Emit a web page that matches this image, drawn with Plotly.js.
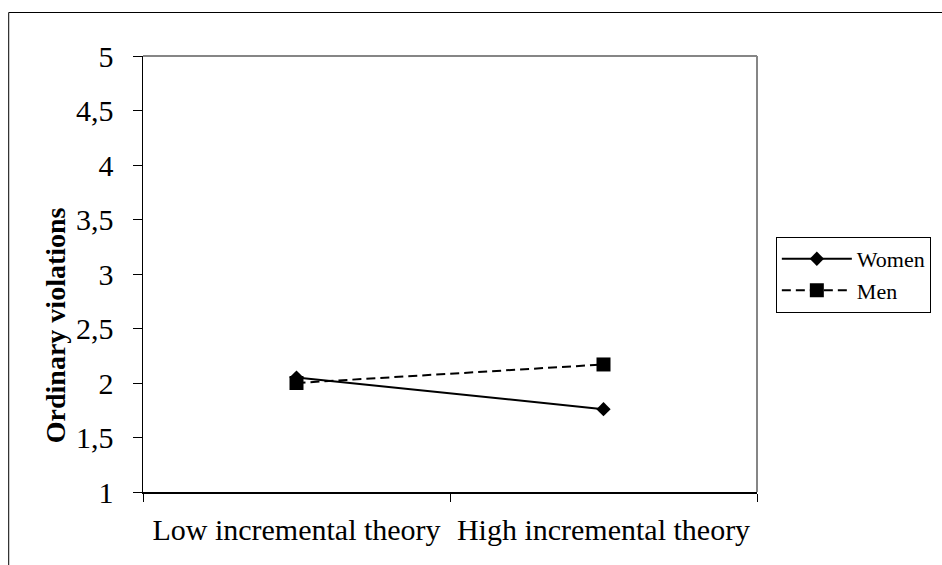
<!DOCTYPE html>
<html>
<head>
<meta charset="utf-8">
<script src="https://cdn.plot.ly/plotly-3.0.1.min.js"></script>
<style>
html,body{margin:0;padding:0;background:#fff;}
#chart{width:942px;height:565px;}
</style>
</head>
<body>
<div id="chart"></div>
<script>
const categories = ["Low incremental theory", "High incremental theory"];
const womenValues = [2.05, 1.76];
const menValues = [2.0, 2.17];
const seriesNames = ["Women", "Men"];
const yTitle = "Ordinary violations";

const FONT = "Liberation Serif, Times New Roman, serif";

const traces = [
  {
    x: categories, y: womenValues, name: seriesNames[0],
    type: "scatter", mode: "lines+markers",
    line: {color: "#000", width: 2, dash: "solid"},
    marker: {symbol: "diamond", size: 11, color: "#000"}
  },
  {
    x: categories, y: menValues, name: seriesNames[1],
    type: "scatter", mode: "lines+markers",
    line: {color: "#000", width: 2, dash: "9px,5px"},
    marker: {symbol: "square", size: 14, color: "#000"}
  }
];

const layout = {
  width: 942, height: 565,
  margin: {l: 143, r: 184, t: 56, b: 73},
  paper_bgcolor: "#fff", plot_bgcolor: "#fff",
  separators: ", ",
  font: {family: FONT, color: "#000", size: 30},
  showlegend: true,
  xaxis: {
    type: "category", range: [-0.5, 1.5],
    showline: true, linecolor: "#000", linewidth: 1.5,
    ticks: "outside", tickson: "boundaries", ticklen: 8, tickcolor: "#000", tickwidth: 1,
    showgrid: false, zeroline: false,
    tickfont: {family: FONT, size: 30, color: "#000"},
    ticklabelstandoff: 10,
    fixedrange: true
  },
  yaxis: {
    range: [1, 5], dtick: 0.5, tick0: 1,
    showline: true, linecolor: "#000", linewidth: 1.5,
    ticks: "outside", ticklen: 9, tickcolor: "#000", tickwidth: 1,
    showgrid: false, zeroline: false,
    tickfont: {family: FONT, size: 30, color: "#000"},
    ticklabelstandoff: 13,
    fixedrange: true
  },
  legend: {
    x: 1.029, xanchor: "left", y: 0.585, yanchor: "top",
    bordercolor: "#000", borderwidth: 1, bgcolor: "#fff",
    font: {family: FONT, size: 22, color: "#000"},
    itemwidth: 70, tracegroupgap: 0
  },
  annotations: [{
    text: "<b>" + yTitle + "</b>", textangle: -90,
    xref: "paper", yref: "paper", x: -0.143, y: 0.383,
    xanchor: "center", yanchor: "middle", showarrow: false,
    font: {family: FONT, size: 28, color: "#000"}
  }],
  shapes: [
    {type: "line", xref: "paper", yref: "paper", x0: 0, x1: 1, y0: 1, y1: 1,
     line: {color: "#868686", width: 2}},
    {type: "line", xref: "paper", yref: "paper", x0: 1, x1: 1, y0: 0, y1: 1,
     line: {color: "#868686", width: 2}},
    {type: "rect", xref: "paper", yref: "paper",
     x0: (8.5 - 143) / 615, x1: 1.5, y0: -0.3, y1: (492 - 12.5) / 436,
     line: {color: "#000", width: 1}, layer: "below"}
  ]
};

Plotly.newPlot("chart", traces, layout, {displayModeBar: false, staticPlot: true});
</script>
</body>
</html>
